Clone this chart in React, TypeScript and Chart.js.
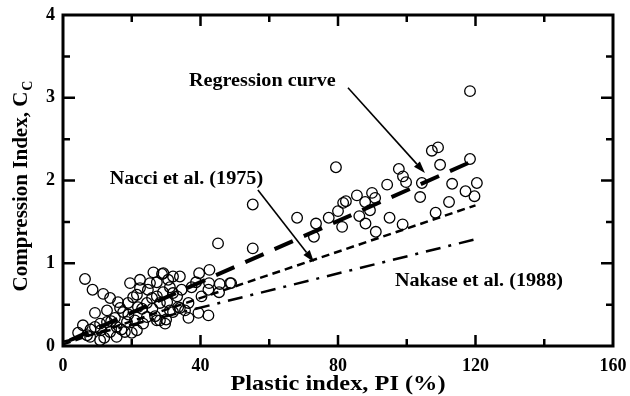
import React, { useEffect, useRef } from "react";
import { Chart, registerables } from "chart.js";

Chart.register(...registerables);

// ---- data ----
const piValues = [
  118.4, 118.4, 107.3, 109.1, 109.7, 79.4, 97.7, 98.9, 99.8, 104.4, 94.3, 113.2, 120.4, 117.1, 119.7,
  89.9, 85.5, 103.9, 112.3, 108.4, 90.8, 89.3, 95.0, 98.8, 91.0, 55.2, 68.1, 55.2, 45.1, 73.6, 73.0,
  77.3, 80.0, 81.5, 82.3, 87.9, 86.2, 81.2, 88.0,
  42.6, 39.6, 48.6, 45.6, 45.4, 42.3, 40.3, 42.3, 39.4, 36.5, 36.5, 37.4, 34.5, 38.7, 42.5, 35.5, 33.5, 31.1, 48.9,
  26.3, 29.2, 32.0, 6.4, 8.6, 11.7, 13.7, 16.0, 19.5, 22.4, 24.7, 27.3, 29.1, 31.1, 33.2, 30.3, 28.2, 29.7,
  26.8, 32.0, 34.0, 5.8, 4.4, 9.3, 12.8, 10.8, 7.9, 10.8, 13.7, 15.6, 18.6, 17.5, 20.9, 21.5, 18.0, 15.6,
  24.4, 24.4, 21.8, 20.4, 18.9, 16.6, 15.1, 12.8, 22.4, 21.5, 25.3, 27.3, 25.9, 28.2, 23.3, 20.0, 7.0, 9.3,
  32.0, 30.6, 34.0, 28.8, 27.3, 12.0, 17.0, 23.0, 26.0, 19.0, 14.0, 11.0, 8.0, 30.0,
];
const ccValues = [
  3.08, 2.26, 2.36, 2.40, 2.19, 2.16, 2.14, 2.05, 1.98, 1.97, 1.95, 1.96, 1.97, 1.87, 1.81,
  1.85, 1.82, 1.80, 1.74, 1.61, 1.79, 1.64, 1.55, 1.47, 1.38, 1.71, 1.55, 1.18, 1.24, 1.48, 1.32,
  1.55, 1.63, 1.73, 1.75, 1.74, 1.57, 1.44, 1.48,
  0.92, 0.88, 0.76, 0.75, 0.65, 0.68, 0.60, 0.37, 0.40, 0.34, 0.52, 0.71, 0.68, 0.77, 0.76, 0.43, 0.47, 0.43, 0.76,
  0.89, 0.88, 0.84, 0.81, 0.68, 0.63, 0.58, 0.53, 0.76, 0.70, 0.68, 0.60, 0.65, 0.71, 0.60, 0.53, 0.31, 0.27,
  0.36, 0.41, 0.46, 0.25, 0.16, 0.40, 0.43, 0.27, 0.11, 0.07, 0.17, 0.23, 0.29, 0.41, 0.31, 0.19, 0.17, 0.11,
  0.35, 0.52, 0.47, 0.59, 0.52, 0.46, 0.34, 0.29, 0.80, 0.62, 0.76, 0.77, 0.58, 0.52, 0.27, 0.16, 0.13, 0.23,
  0.64, 0.80, 0.84, 0.87, 0.31, 0.10, 0.20, 0.45, 0.45, 0.38, 0.30, 0.19, 0.20, 0.32,
];

const regressionX = [2, 120];
const regressionY = [0.07, 2.25];
const nacciX = [0, 120];
const nacciY = [0.02, 1.7];
const nakaseX = [0, 120];
const nakaseY = [0.05, 1.29];

const xMin = 0, xMax = 160, xStep = 40;
const yMin = 0, yMax = 4, yStep = 1;
const xMajorTicks = [40, 80, 120];
const xMinorTicks = [20, 60, 100, 140];
const yMajorTicks = [1, 2, 3];
const yMinorTicks = [0.5, 1.5, 2.5, 3.5];

const xTitle = "Plastic index, PI (%)";
const yTitleMain = "Compression Index, C";
const yTitleSub = "C";

const annotationTexts = ["Regression curve", "Nacci et al. (1975)", "Nakase et al. (1988)"];
const annotationX = [58.0, 35.9, 121.0];
const annotationY = [3.14, 1.96, 0.725];
// arrows: [fromX, fromY, toX, toY]
const arrowRegression = [82.9, 3.12, 105.3, 2.09];
const arrowNacci = [56.7, 1.885, 73.0, 1.015];

const SERIF = "'Liberation Serif', 'Times New Roman', serif";

function toPoints(xs: number[], ys: number[]) {
  return xs.map((x, i) => ({ x, y: ys[i] }));
}

const decorPlugin = {
  id: "decor",
  afterDraw(chart: any) {
    const { ctx, chartArea: a, scales } = chart;
    const xs = scales.x;
    const ys = scales.y;
    ctx.save();
    ctx.strokeStyle = "#000";
    ctx.fillStyle = "#000";
    ctx.lineCap = "butt";
    // frame
    ctx.lineWidth = 3;
    ctx.strokeRect(a.left, a.top, a.right - a.left, a.bottom - a.top);
    // inward ticks
    ctx.lineWidth = 2.5;
    const xt = (vals: number[], len: number) => {
      vals.forEach((v) => {
        const p = xs.getPixelForValue(v);
        ctx.beginPath();
        ctx.moveTo(p, a.bottom);
        ctx.lineTo(p, a.bottom - len);
        ctx.moveTo(p, a.top);
        ctx.lineTo(p, a.top + len);
        ctx.stroke();
      });
    };
    const yt = (vals: number[], len: number) => {
      vals.forEach((v) => {
        const p = ys.getPixelForValue(v);
        ctx.beginPath();
        ctx.moveTo(a.left, p);
        ctx.lineTo(a.left + len, p);
        ctx.moveTo(a.right, p);
        ctx.lineTo(a.right - len, p);
        ctx.stroke();
      });
    };
    xt(xMajorTicks, 11);
    xt(xMinorTicks, 7);
    yt(yMajorTicks, 12);
    yt(yMinorTicks, 7);

    // stretched text helper
    const stretched = (text: string, cx: number, by: number, size: number, sx: number) => {
      ctx.save();
      ctx.translate(cx, by);
      ctx.scale(sx, 1);
      ctx.font = `bold ${size}px ${SERIF}`;
      ctx.textAlign = "center";
      ctx.textBaseline = "alphabetic";
      ctx.fillText(text, 0, 0);
      ctx.restore();
    };

    // x title
    stretched(xTitle, (a.left + a.right) / 2, 390, 21, 1.16);

    // y title (rotated, with subscript)
    ctx.save();
    const cy = (a.top + a.bottom) / 2 + 6;
    ctx.translate(27, cy);
    ctx.rotate(-Math.PI / 2);
    ctx.textBaseline = "alphabetic";
    ctx.textAlign = "left";
    ctx.font = `bold 21px ${SERIF}`;
    const wMain = ctx.measureText(yTitleMain).width;
    ctx.font = `bold 14px ${SERIF}`;
    const wSub = ctx.measureText(yTitleSub).width;
    const start = -(wMain + wSub) / 2;
    ctx.font = `bold 21px ${SERIF}`;
    ctx.fillText(yTitleMain, start, 0);
    ctx.font = `bold 14px ${SERIF}`;
    ctx.fillText(yTitleSub, start + wMain + 1, 5);
    ctx.restore();

    // annotations
    annotationTexts.forEach((t, i) => {
      stretched(t, xs.getPixelForValue(annotationX[i]), ys.getPixelForValue(annotationY[i]), 18, 1.12);
    });

    const arrow = (arr: number[]) => {
      const x1 = xs.getPixelForValue(arr[0]);
      const y1 = ys.getPixelForValue(arr[1]);
      const x2 = xs.getPixelForValue(arr[2]);
      const y2 = ys.getPixelForValue(arr[3]);
      const ang = Math.atan2(y2 - y1, x2 - x1);
      const hl = 12, hw = 4;
      const bx = x2 - hl * Math.cos(ang);
      const by = y2 - hl * Math.sin(ang);
      ctx.lineWidth = 1.6;
      ctx.beginPath();
      ctx.moveTo(x1, y1);
      ctx.lineTo(bx, by);
      ctx.stroke();
      ctx.beginPath();
      ctx.moveTo(x2, y2);
      ctx.lineTo(bx + hw * Math.sin(ang), by - hw * Math.cos(ang));
      ctx.lineTo(bx - hw * Math.sin(ang), by + hw * Math.cos(ang));
      ctx.closePath();
      ctx.fill();
    };
    arrow(arrowRegression);
    arrow(arrowNacci);
    ctx.restore();
  },
};

export default function App() {
  const ref = useRef<HTMLCanvasElement | null>(null);
  useEffect(() => {
    if (!ref.current) return;
    const chart = new Chart(ref.current, {
      type: "scatter",
      data: {
        datasets: [
          {
            label: "Data",
            data: toPoints(piValues, ccValues),
            showLine: false,
            pointRadius: 5.3,
            pointHoverRadius: 5.3,
            pointBorderWidth: 1.3,
            borderColor: "#000",
            backgroundColor: "rgba(0,0,0,0)",
          },
          {
            label: "Regression curve",
            data: toPoints(regressionX, regressionY),
            showLine: true,
            pointRadius: 0,
            borderColor: "#000",
            borderWidth: 4,
            borderDash: [20, 12],
            fill: false,
          },
          {
            label: "Nacci et al. (1975)",
            data: toPoints(nacciX, nacciY),
            showLine: true,
            pointRadius: 0,
            borderColor: "#000",
            borderWidth: 2.5,
            borderDash: [8, 5],
            fill: false,
          },
          {
            label: "Nakase et al. (1988)",
            data: toPoints(nakaseX, nakaseY),
            showLine: true,
            pointRadius: 0,
            borderColor: "#000",
            borderWidth: 2.5,
            borderDash: [15, 8, 3, 8],
            fill: false,
          },
        ],
      },
      options: {
        animation: false,
        responsive: false,
        maintainAspectRatio: false,
        layout: { padding: { top: 15, right: 17, left: 0, bottom: 0 } },
        plugins: { legend: { display: false }, tooltip: { enabled: false } },
        scales: {
          x: {
            type: "linear",
            min: xMin,
            max: xMax,
            grid: { display: false, drawTicks: false },
            border: { display: false },
            ticks: {
              stepSize: xStep,
              color: "#000",
              padding: 10,
              maxRotation: 0,
              font: { family: SERIF, size: 18, weight: "bold" },
            },
            afterFit: (s: any) => {
              s.height = 50;
              s.paddingLeft = 0;
              s.paddingRight = 0;
            },
          },
          y: {
            type: "linear",
            min: yMin,
            max: yMax,
            grid: { display: false, drawTicks: false },
            border: { display: false },
            ticks: {
              stepSize: yStep,
              color: "#000",
              padding: 8,
              font: { family: SERIF, size: 18, weight: "bold" },
            },
            afterFit: (s: any) => {
              s.width = 63;
              s.paddingTop = 0;
              s.paddingBottom = 0;
            },
          },
        },
      },
      plugins: [decorPlugin],
    } as any);
    return () => chart.destroy();
  }, []);
  return (
    <div style={{ position: "fixed", left: 0, top: 0, width: 630, height: 396, background: "#fff" }}>
      <canvas ref={ref} width={630} height={396} style={{ width: 630, height: 396 }} />
    </div>
  );
}
